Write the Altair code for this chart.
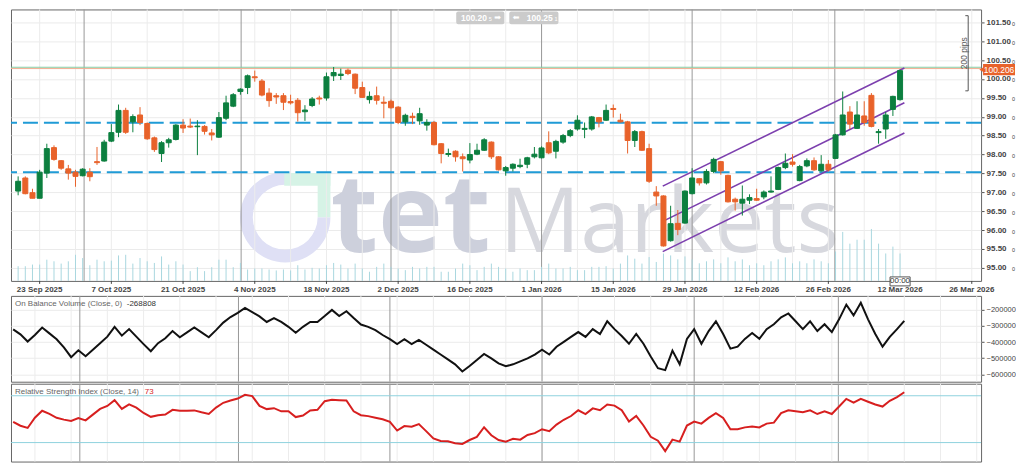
import math
import altair as alt
import pandas as pd

# ---------------- data ----------------
open_ = [97.033, 97.379, 96.990, 96.843, 97.508, 98.183, 97.837, 97.621, 97.534, 97.439,
         97.534, 97.811, 97.828, 98.355, 98.589, 99.168, 98.865, 99.047, 98.822, 98.442,
         98.027, 98.312, 98.399, 98.779, 98.753, 98.736, 98.744, 98.571, 98.459, 98.960,
         99.280, 99.669, 99.773, 100.058, 99.946, 99.626, 99.557, 99.557, 99.401, 99.436,
         99.133, 99.297, 99.496, 99.496, 100.084, 100.092, 100.231, 100.127, 99.773, 99.453,
         99.556, 99.384, 99.409, 99.254, 98.865, 99.012, 98.891, 98.779, 98.848, 98.286,
         98.001, 98.087, 97.940, 97.854, 98.009, 98.113, 98.329, 97.940, 97.569, 97.638,
         97.681, 97.742, 97.940, 97.914, 98.312, 98.087, 98.329, 98.502, 98.675, 98.666,
         98.675, 98.977, 98.908, 99.219, 98.908, 98.865, 98.372, 98.606, 98.157, 97.007,
         96.904, 95.720, 96.178, 96.186, 96.964, 97.361, 97.249, 97.552, 97.811, 97.448,
         96.817, 96.713, 96.791, 96.834, 96.878, 97.007, 97.076, 97.655, 97.802, 97.310,
         97.699, 97.837, 97.569, 97.742, 97.897, 98.520, 99.125, 98.692, 99.021, 99.566,
         98.580, 98.675, 99.194, 99.453]
high = [97.422, 97.422, 97.094, 97.595, 98.286, 98.243, 97.854, 97.725, 97.595, 97.638,
        97.638, 98.200, 98.390, 98.805, 99.323, 99.237, 99.064, 99.254, 98.848, 98.476,
        98.355, 98.442, 98.805, 98.934, 98.952, 98.909, 98.779, 98.675, 99.125, 99.557,
        99.626, 99.755, 100.118, 100.222, 99.998, 99.755, 99.626, 99.626, 99.583, 99.496,
        99.306, 99.522, 99.557, 100.170, 100.317, 100.274, 100.274, 100.144, 99.928, 99.669,
        99.798, 99.539, 99.453, 99.280, 99.081, 99.107, 99.237, 98.934, 98.891, 98.303,
        98.156, 98.113, 98.027, 98.303, 98.286, 98.433, 98.347, 97.958, 97.698, 97.767,
        97.889, 97.940, 98.199, 98.217, 98.614, 98.390, 98.545, 98.675, 99.038, 98.848,
        99.021, 98.995, 99.323, 99.323, 99.081, 98.891, 98.649, 98.632, 98.286, 97.163,
        96.921, 96.644, 96.532, 97.050, 97.638, 97.379, 97.612, 97.915, 97.828, 97.465,
        96.860, 97.180, 96.947, 97.094, 97.050, 97.422, 97.681, 98.027, 98.010, 97.725,
        97.897, 97.923, 97.984, 97.854, 98.546, 99.669, 99.280, 99.410, 99.410, 99.626,
        98.675, 99.125, 99.557, 100.250]
low = [96.921, 96.947, 96.843, 96.843, 97.379, 97.837, 97.595, 97.336, 97.146, 97.422,
       97.292, 97.725, 97.811, 98.329, 98.459, 98.546, 98.589, 98.779, 98.390, 98.070,
       97.802, 98.183, 98.373, 98.571, 98.701, 97.984, 98.528, 98.373, 98.442, 98.909,
       99.254, 99.583, 99.600, 99.928, 99.539, 99.263, 99.341, 99.177, 99.323, 98.874,
       98.891, 99.254, 99.323, 99.427, 99.946, 99.972, 100.101, 99.600, 99.496, 99.349,
       99.323, 98.960, 99.219, 98.805, 98.761, 98.805, 98.787, 98.632, 98.243, 97.767,
       97.940, 97.811, 97.551, 97.767, 97.984, 98.096, 97.880, 97.577, 97.439, 97.551,
       97.638, 97.638, 97.897, 97.897, 98.009, 97.897, 98.286, 98.459, 98.632, 98.433,
       98.632, 98.718, 98.891, 98.977, 98.848, 98.027, 98.199, 98.096, 97.249, 96.644,
       95.564, 95.694, 95.866, 96.169, 96.947, 97.180, 97.206, 97.508, 97.465, 96.731,
       96.515, 96.385, 96.688, 96.774, 96.817, 96.990, 97.059, 97.612, 97.681, 97.292,
       97.664, 97.569, 97.552, 97.552, 97.880, 98.502, 98.675, 98.675, 98.762, 98.718,
       98.286, 98.416, 99.021, 99.427]
close = [97.292, 96.964, 96.843, 97.534, 98.157, 97.871, 97.638, 97.508, 97.422, 97.612,
         97.414, 97.785, 98.329, 98.580, 99.168, 98.589, 99.004, 98.848, 98.416, 98.131,
         98.312, 98.390, 98.779, 98.701, 98.727, 98.753, 98.615, 98.520, 98.978, 99.367,
         99.583, 99.730, 100.084, 100.032, 99.574, 99.427, 99.522, 99.384, 99.367, 99.107,
         99.177, 99.470, 99.470, 100.058, 100.170, 100.127, 100.144, 99.755, 99.513, 99.539,
         99.436, 99.358, 99.237, 98.848, 99.038, 98.977, 99.081, 98.848, 98.260, 98.027,
         98.027, 97.940, 97.889, 98.001, 98.113, 98.390, 97.940, 97.595, 97.655, 97.742,
         97.716, 97.914, 98.009, 98.174, 98.044, 98.347, 98.502, 98.632, 98.908, 98.692,
         98.995, 98.865, 99.168, 99.193, 98.865, 98.372, 98.606, 98.113, 97.292, 96.904,
         95.581, 96.169, 96.013, 97.033, 97.379, 97.249, 97.552, 97.871, 97.569, 96.748,
         96.748, 96.817, 96.860, 96.791, 97.007, 97.033, 97.655, 97.768, 97.742, 97.681,
         97.837, 97.595, 97.742, 97.595, 98.520, 99.047, 98.805, 99.047, 98.848, 98.744,
         98.606, 99.047, 99.539, 100.220]
volume = [22500, 22500, 25000, 25000, 32500, 30000, 26500, 30000, 40000, 35000,
          24000, 32500, 30000, 31000, 39000, 40000, 26500, 35000, 30000, 27500,
          37500, 25000, 30000, 25000, 15000, 21000, 15000, 21000, 32500, 32500,
          21000, 27500, 17500, 19000, 19000, 17500, 16000, 17500, 16000, 24000,
          17500, 20000, 19000, 24000, 27500, 25000, 19000, 26500, 19000, 14000,
          21500, 26500, 21500, 19000, 16500, 21500, 19000, 21500, 21500, 14000,
          14000, 19000, 26500, 24000, 16500, 21500, 26500, 21500, 19000, 14000,
          19000, 16500, 16500, 21500, 26500, 19000, 19000, 21500, 16500, 16500,
          21500, 21500, 22500, 19000, 26500, 39000, 34000, 26500, 36500, 29000,
          42000, 39000, 33000, 37500, 33000, 27000, 30000, 33000, 27000, 36000,
          30000, 33000, 24000, 27000, 24000, 30000, 33000, 36000, 27000, 30000,
          27000, 33000, 30000, 27000, 45000, 75000, 57000, 63000, 63000, 79500,
          57000, 42000, 52500, 42000]
obv = [-321400, -351700, -396200, -355800, -309300, -345700, -382000, -432500, -493100, -450700,
       -487100, -446700, -406300, -365900, -305300, -359800, -319400, -365900, -412300, -456800,
       -406300, -376000, -331500, -369900, -339600, -309300, -339600, -369900, -325500, -279000,
       -244600, -218400, -188100, -214300, -240600, -274900, -250700, -274900, -305300, -341600,
       -305300, -274900, -274900, -238600, -200200, -238600, -208300, -250700, -291100, -305300,
       -325500, -355800, -382000, -412300, -382000, -412300, -386100, -416400, -446700, -477000,
       -507300, -537600, -582000, -547700, -511300, -472900, -501200, -531500, -549700, -537600,
       -519400, -501200, -477000, -446700, -477000, -428500, -398200, -367900, -337600, -367900,
       -319400, -349700, -270900, -319400, -361800, -410300, -349700, -410300, -489100, -561800,
       -573900, -452700, -537600, -380000, -319400, -410300, -331500, -270900, -349700, -440600,
       -428500, -380000, -343600, -380000, -319400, -289100, -246700, -222400, -270900, -319400,
       -270900, -331500, -289100, -337600, -258800, -167800, -234500, -155800, -258800, -349700,
       -428500, -367900, -319400, -268808]
rsi = [47.7, 44.4, 42.5, 51.2, 57.2, 54.5, 51.2, 49.6, 48.5, 51.0,
       49.0, 53.9, 58.8, 61.3, 66.2, 58.8, 62.7, 59.9, 55.3, 52.0,
       53.4, 53.9, 58.0, 57.2, 57.2, 57.5, 55.9, 54.5, 59.9, 64.0,
       65.9, 67.6, 70.8, 69.7, 61.3, 58.6, 59.4, 56.7, 56.7, 51.8,
       53.1, 57.5, 58.0, 65.4, 66.5, 66.2, 65.9, 56.7, 53.4, 52.6,
       51.2, 49.9, 47.7, 40.3, 44.1, 43.6, 45.8, 39.8, 33.5, 31.4,
       31.1, 29.5, 28.9, 32.2, 34.9, 43.1, 36.3, 32.2, 30.8, 33.3,
       32.5, 36.5, 38.1, 41.4, 39.8, 45.4, 49.5, 52.7, 57.6, 54.4,
       59.2, 57.6, 62.5, 61.6, 57.6, 47.9, 52.7, 44.6, 34.9, 31.6,
       22.7, 32.5, 30.8, 44.6, 47.9, 46.2, 51.1, 55.2, 51.1, 41.4,
       41.4, 43.0, 43.8, 43.0, 46.2, 47.0, 55.2, 57.6, 56.8, 56.0,
       57.6, 54.4, 56.8, 54.4, 60.8, 67.3, 64.1, 67.3, 64.9, 62.5,
       60.8, 65.7, 68.9, 73.0]

tick_idx = [3, 13, 23, 33, 43, 53, 63, 73, 83, 93, 103, 113, 123, 133]
tick_labels = ["23 Sep 2025", "7 Oct 2025", "21 Oct 2025", "4 Nov 2025", "18 Nov 2025",
               "2 Dec 2025", "16 Dec 2025", "1 Jan 2026", "15 Jan 2026", "29 Jan 2026",
               "12 Feb 2026", "26 Feb 2026", "12 Mar 2026", "26 Mar 2026"]
grid_idx = [3, 8, 13, 18, 23, 28, 33, 38, 43, 48, 53, 58, 63, 68, 73, 78, 83, 88, 93, 98,
            103, 108, 113, 118, 123, 128, 133]
month_idx = [9.2, 31.1, 52.0, 73.0, 94.0, 113.9]
price_ticks = [95.0, 95.5, 96.0, 96.5, 97.0, 97.5, 98.0, 98.5, 99.0, 99.5, 100.0, 100.5, 101.0, 101.5]
obv_ticks = [-200000, -300000, -400000, -500000, -600000]
rsi_levels = [30, 70]
support_levels = [97.53, 98.84]
price_lines = [100.31, 100.275]
channel_idx = [89.9, 123.6]
channel_upper = [97.164, 100.29]
channel_mid = [96.23, 99.37]
channel_low = [95.43, 98.57]
pips_idx = [132.1, 132.5]
pips_range = [99.686, 101.675]
last_price = 100.206
bid_ask = ["100.20", "100.25"]
obv_last = -268808
rsi_last = 73

# ---------------- layout ----------------
W, HM, HO, HR = 972, 272, 86, 78
SX = W / 987.0
SY = HM / 277.0


def px(x):
    return (x - 3) * SX


def py(y):
    return (y - 3) * SY


GREEN = "#0c7f3f"
ORANGE = "#e8622a"
FONT = "Liberation Sans"

n = len(close)
df = pd.DataFrame({"i": list(range(n)), "open": open_, "high": high, "low": low,
                   "close": close, "volume": volume, "obv": obv, "rsi": rsi})

XS = alt.Scale(domain=[-0.3, 133.6], nice=False, zero=False)
YP = alt.Scale(domain=[94.655, 101.84], nice=False, zero=False)
YV = alt.Scale(domain=[0, 415500], nice=False, zero=True)
YO = alt.Scale(domain=[-645500, -113300], nice=False, zero=False)
YR = alt.Scale(domain=[13.8, 80.3], nice=False, zero=False)

one = pd.DataFrame({"a": [0]})
cond = alt.condition("datum.close >= datum.open", alt.value(GREEN), alt.value(ORANGE))


def vgrid():
    return alt.Chart(pd.DataFrame({"g": grid_idx})).mark_rule(
        color="#ececec", strokeWidth=1).encode(x=alt.X("g:Q", scale=XS, axis=None))


def mgrid():
    return alt.Chart(pd.DataFrame({"m": month_idx})).mark_rule(
        color="#999999", strokeWidth=1).encode(x=alt.X("m:Q", scale=XS, axis=None))


def ptext(text, x, y, size=9, color="#666", weight="normal", align="left", font=FONT, **kw):
    return alt.Chart(one).mark_text(text=text, fontSize=size, color=color, fontWeight=weight,
                                    align=align, baseline="middle", font=font, **kw).encode(
        x=alt.value(x), y=alt.value(y))


def prect(x1, x2, y1, y2, color, **kw):
    return alt.Chart(one).mark_rect(color=color, **kw).encode(
        x=alt.value(x1), x2=alt.value(x2), y=alt.value(y1), y2=alt.value(y2))


# ---- watermark ----
ring = alt.Chart(one).mark_arc(radius=46 * SX, radius2=33 * SX, theta=math.pi / 2,
                               theta2=2 * math.pi, color="#dfe0f5").encode(
    x=alt.value(px(282)), y=alt.value(py(215)))
mint1 = prect(px(281), px(328), py(170), py(183), "#d6f3e6")
mint2 = prect(px(315), px(328), py(170), py(215), "#d6f3e6")
wm_tet = alt.Chart(one).mark_text(text="tet", font="Open Sans", fontSize=110, fontWeight="bold",
                                  color="#cdd0dc", align="left", baseline="alphabetic").encode(
    x=alt.value(px(328)), y=alt.value(py(251)))
wm_mk = alt.Chart(one).mark_text(text="Markets", font="Open Sans", fontSize=90, fontWeight="normal",
                                 color="#d7d8de", align="left", baseline="alphabetic").encode(
    x=alt.value(px(500)), y=alt.value(py(251)))

# ---- main price panel ----
vol = alt.Chart(df).mark_rule(color="#a9d7df", strokeWidth=1).encode(
    x=alt.X("i:Q", scale=XS, axis=None),
    y=alt.Y("volume:Q", scale=YV, axis=None), y2=alt.value(HM))

support = alt.Chart(pd.DataFrame({"lvl": support_levels})).mark_rule(
    color="#1f9bd6", strokeWidth=2, strokeDash=[15, 6]).encode(
    y=alt.Y("lvl:Q", scale=YP, axis=None))

plines = alt.Chart(pd.DataFrame({"p": price_lines, "c": ["#86cba3", "#f1ad92"]})).mark_rule(
    strokeWidth=1).encode(y=alt.Y("p:Q", scale=YP, axis=None), color=alt.Color("c:N", scale=None))

ch_rows = []
for name, vals in [("upper", channel_upper), ("mid", channel_mid), ("low", channel_low)]:
    for xi, yv in zip(channel_idx, vals):
        ch_rows.append({"line": name, "ci": xi, "cp": yv})
channel = alt.Chart(pd.DataFrame(ch_rows)).mark_line(color="#7c3fae", strokeWidth=1.6).encode(
    x=alt.X("ci:Q", scale=XS, axis=None), y=alt.Y("cp:Q", scale=YP, axis=None), detail="line:N")

wicks = alt.Chart(df).mark_rule(strokeWidth=1).encode(
    x=alt.X("i:Q", scale=XS, axis=None),
    y=alt.Y("low:Q", scale=YP, axis=None), y2="high:Q", color=cond)

p_axis = alt.Axis(orient="right", values=price_ticks, format=".2f", grid=True, gridColor="#ebebeb",
                  tickSize=3, tickColor="#555", domain=False, labelFontSize=8, labelFontWeight="bold",
                  labelColor="#444", labelPadding=2, title=None, labelFont=FONT, labelFlush=False)

bodies = alt.Chart(df).mark_bar(size=5, strokeWidth=1).encode(
    x=alt.X("i:Q", scale=XS, axis=None),
    y=alt.Y("open:Q", scale=YP, axis=p_axis), y2="close:Q", color=cond, stroke=cond)

# small pipette digit after each price label
pip_digits = alt.Chart(pd.DataFrame({"p": price_ticks})).mark_text(
    text="0", fontSize=5.5, color="#444", font=FONT, align="left", baseline="middle", dy=1.5).encode(
    x=alt.value(W + 31), y=alt.Y("p:Q", scale=YP, axis=None))

# date axis (ticks + labels) drawn from the tick arrays through the x scale
ticks_df = pd.DataFrame({"t": tick_idx, "lab": tick_labels})
x_ticks = alt.Chart(ticks_df).mark_rule(color="#444", strokeWidth=1).encode(
    x=alt.X("t:Q", scale=XS, axis=None), y=alt.value(HM), y2=alt.value(HM + 3))
x_labels = alt.Chart(ticks_df).mark_text(fontSize=8, fontWeight="bold", color="#444", font=FONT,
                                         baseline="top").encode(
    x=alt.X("t:Q", scale=XS, axis=None), y=alt.value(HM + 5), text="lab:N")

pips_v = alt.Chart(pd.DataFrame({"x": [pips_idx[1]], "y1": [pips_range[0]], "y2": [pips_range[1]]})).mark_rule(
    color="#555", strokeWidth=1).encode(x=alt.X("x:Q", scale=XS, axis=None),
                                         y=alt.Y("y1:Q", scale=YP, axis=None), y2="y2:Q")
pips_h = alt.Chart(pd.DataFrame({"y": pips_range, "x1": [pips_idx[0]] * 2, "x2": [pips_idx[1]] * 2})).mark_rule(
    color="#555", strokeWidth=1).encode(
    x=alt.X("x1:Q", scale=XS, axis=None), x2="x2:Q", y=alt.Y("y:Q", scale=YP, axis=None))
pips_t = alt.Chart(pd.DataFrame({"y": [sum(pips_range) / 2], "x": [pips_idx[0] - 0.25]})).mark_text(
    text="200 pips", angle=270, fontSize=8.5, color="#555", font=FONT, baseline="middle").encode(
    x=alt.X("x:Q", scale=XS, axis=None), y=alt.Y("y:Q", scale=YP, axis=None))

# current price tag on the axis
tag_box = alt.Chart(pd.DataFrame({"t": [last_price + 0.19], "b": [last_price - 0.11]})).mark_rect(
    color=ORANGE).encode(x=alt.value(W + 2), x2=alt.value(W + 34),
                         y=alt.Y("t:Q", scale=YP, axis=None), y2="b:Q")
tag_tri = alt.Chart(pd.DataFrame({"p": [last_price + 0.04]})).mark_point(
    shape="triangle-left", filled=True, size=40, color=ORANGE, opacity=1).encode(
    x=alt.value(W + 1), y=alt.Y("p:Q", scale=YP, axis=None))
tag_txt = alt.Chart(pd.DataFrame({"p": [last_price + 0.04]})).mark_text(
    text=f"{last_price:.3f}", fontSize=8.5, color="white", font=FONT, align="center").encode(
    x=alt.value(W + 18), y=alt.Y("p:Q", scale=YP, axis=None))

# bid / ask boxes at the top
box1 = prect(px(456), px(505), py(5), py(18), "#cbcbcb", cornerRadius=2)
box2 = prect(px(510), px(560), py(5), py(18), "#cbcbcb", cornerRadius=2)
bt1 = ptext(bid_ask[0], px(474), py(11.5), size=8.5, color="white", weight="bold", align="center")
bs1 = ptext("5", px(489), py(12.5), size=5.5, color="white")
ba1 = ptext("➡", px(498), py(11.5), size=8, color="white", align="center", font="DejaVu Sans")
ba2 = ptext("⬅", px(517), py(11.5), size=8, color="white", align="center", font="DejaVu Sans")
bt2 = ptext(bid_ask[1], px(541), py(11.5), size=8.5, color="white", weight="bold", align="center")
bs2 = ptext("1", px(556), py(12.5), size=5.5, color="white")

# time label at the last candle
tl_box = alt.Chart(pd.DataFrame({"a": [121.6], "b": [124.4]})).mark_rect(
    color="white", stroke="#555", strokeWidth=1).encode(
    x=alt.X("a:Q", scale=XS, axis=None), x2="b:Q", y=alt.value(HM - 4), y2=alt.value(HM + 5))
tl_txt = alt.Chart(pd.DataFrame({"a": [123.0]})).mark_text(
    text="00:00", fontSize=8, color="#333", font=FONT, baseline="middle").encode(
    x=alt.X("a:Q", scale=XS, axis=None), y=alt.value(HM + 0.5))

main = alt.layer(
    ring, mint1, mint2, wm_tet, wm_mk, vgrid(), mgrid(), vol, support, plines, channel,
    wicks, bodies, pip_digits, x_ticks, x_labels, pips_v, pips_h, pips_t, tag_box, tag_tri, tag_txt,
    box1, box2, bt1, bs1, ba1, ba2, bt2, bs2, tl_box, tl_txt
).resolve_scale(y="independent").properties(width=W, height=HM)

# ---- OBV panel ----
o_axis = alt.Axis(orient="right", values=obv_ticks, format="d", grid=True, gridColor="#ebebeb",
                  tickSize=3, tickColor="#555", domain=False, labelFontSize=7.5, labelColor="#444",
                  labelPadding=2, title=None, labelFont=FONT, labelFlush=False)
obv_line = alt.Chart(df).mark_line(color="#111", strokeWidth=2).encode(
    x=alt.X("i:Q", scale=XS, axis=None), y=alt.Y("obv:Q", scale=YO, axis=o_axis))
obv_t1 = ptext("On Balance Volume (Close, 0)", 4, 8, size=8, color="#666")
obv_t2 = ptext(str(obv_last), 116, 8, size=8, color="#333")
obv_chart = alt.layer(vgrid(), mgrid(), obv_line, obv_t1, obv_t2).properties(width=W, height=HO)

# ---- RSI panel ----
r_axis = alt.Axis(orient="right", values=rsi_levels, grid=False, tickSize=3, tickColor="#555",
                  domain=False, labelFontSize=8, labelColor="#444", labelPadding=2, title=None,
                  labelFont=FONT, labelFlush=False)
rsi_lv = alt.Chart(pd.DataFrame({"r": rsi_levels})).mark_rule(color="#8fd2de", strokeWidth=1).encode(
    y=alt.Y("r:Q", scale=YR, axis=None))
rsi_line = alt.Chart(df).mark_line(color="#d71f1f", strokeWidth=2).encode(
    x=alt.X("i:Q", scale=XS, axis=None), y=alt.Y("rsi:Q", scale=YR, axis=r_axis))
rsi_t1 = ptext("Relative Strength Index (Close, 14)", 4, 8, size=8, color="#666")
rsi_t2 = ptext(str(rsi_last), 134, 8, size=8, color="#d71f1f")
rsi_chart = alt.layer(vgrid(), mgrid(), rsi_lv, rsi_line, rsi_t1, rsi_t2).properties(width=W, height=HR)

chart = alt.vconcat(main, obv_chart, rsi_chart, spacing=0).properties(
    padding=0, background="white"
).configure_view(stroke="#666", strokeWidth=1)

chart.save("out.html", embed_options={"renderer": "svg", "actions": False})
